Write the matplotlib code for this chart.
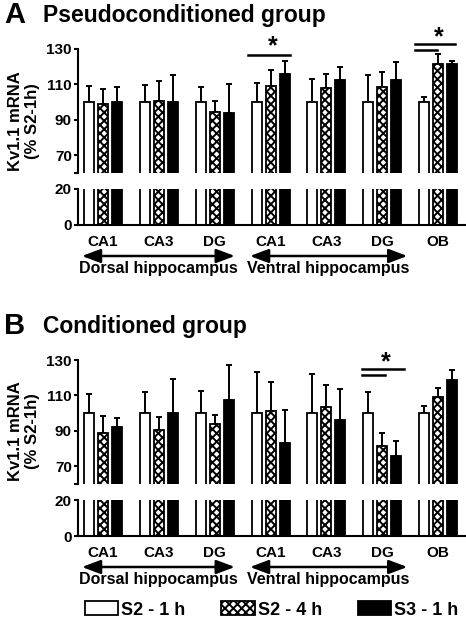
import numpy as np
import matplotlib
matplotlib.use('Agg')
import matplotlib.pyplot as plt
from matplotlib.patches import Patch

plt.rcParams['font.family'] = ['Liberation Sans', 'DejaVu Sans']
plt.rcParams['font.weight'] = 'bold'
plt.rcParams['hatch.linewidth'] = 1.4

# ---- data (% of S2-1h) ----
regions = ['CA1', 'CA3', 'DG', 'CA1', 'CA3', 'DG', 'OB']
series_names = ['S2 - 1 h', 'S2 - 4 h', 'S3 - 1 h']

# Panel A: pseudoconditioned group (mean, top of error bar)
a_s2_1h = [100, 100, 100, 100, 100, 100, 100]
a_s2_1h_top = [109.2, 109.7, 108.4, 110.8, 112.9, 115.4, 103.0]
a_s2_4h = [98.8, 100.7, 94.5, 109.3, 107.8, 108.6, 121.4]
a_s2_4h_top = [107.3, 112.2, 100.5, 118.4, 115.9, 117.0, 127.4]
a_s3_1h = [100, 100, 94.0, 115.9, 112.3, 112.3, 121.4]
a_s3_1h_top = [108.8, 115.4, 110.3, 123.4, 120.0, 122.5, 123.4]

# Panel B: conditioned group
b_s2_1h = [100, 100, 100, 100, 100, 100, 100]
b_s2_1h_top = [110.7, 112.0, 112.5, 123.0, 122.3, 112.0, 103.9]
b_s2_4h = [88.9, 90.6, 94.1, 101.1, 103.5, 81.4, 109.0]
b_s2_4h_top = [98.5, 97.9, 98.8, 117.6, 116.1, 88.7, 114.4]
b_s3_1h = [91.9, 100, 107.3, 82.9, 96.2, 75.9, 118.9]
b_s3_1h_top = [97.1, 119.3, 127.2, 101.5, 113.9, 84.4, 124.4]

# significance brackets: (x start, x end, y) in data units, star (x, y)
a_lines = [(2.60, 3.35, 126.6), (5.59, 6.31, 132.8), (5.59, 5.98, 129.4)]
a_stars = [(3.03, 131.5), (6.02, 136.5)]
b_lines = [(4.64, 5.39, 124.9), (4.64, 5.05, 121.5)]
b_stars = [(5.07, 128.6)]

x = np.arange(len(regions))
offsets = [-0.25, 0.0, 0.25]
bar_w = 0.18
faces = ['white', 'white', 'black']
hatches = [None, 'xxxx', None]

fig = plt.figure(figsize=(4.66, 6.19), dpi=100)


def style_axis(ax):
    for s in ['top', 'right']:
        ax.spines[s].set_visible(False)
    ax.spines['left'].set_linewidth(1.5)
    ax.spines['bottom'].set_linewidth(1.5)
    ax.tick_params(axis='y', length=3, width=1.5, pad=1.5, labelsize=11)
    ax.set_xlim(-0.45, 6.5)


def draw_panel(top_px, means, tops, lines, stars, letter, title, label_px):
    """Broken-axis bar panel: upper part 60-130, lower part 0-20."""
    H = 619.0
    ax_up = fig.add_axes([78 / 466, 1 - (top_px + 124) / H, 388 / 466, 124 / H])
    ax_lo = fig.add_axes([78 / 466, 1 - (top_px + 176) / H, 388 / 466, 36 / H])

    for i in range(3):
        for ax in (ax_up, ax_lo):
            ax.bar(x + offsets[i], means[i], width=bar_w, color=faces[i],
                   edgecolor='black', hatch=hatches[i], linewidth=1.3, zorder=2)
        err = np.array(tops[i]) - np.array(means[i])
        ax_up.errorbar(x + offsets[i], means[i], yerr=[np.zeros(len(x)), err],
                       fmt='none', ecolor='black', elinewidth=1.4, capsize=2.5,
                       capthick=1.4, zorder=1)

    style_axis(ax_up)
    ax_up.spines['bottom'].set_visible(False)
    ax_up.set_ylim(60, 130)
    ax_up.set_yticks([60, 70, 90, 110, 130])
    ax_up.set_yticklabels(['', '70', '90', '110', '130'])
    ax_up.set_xticks([])

    style_axis(ax_lo)
    ax_lo.set_ylim(0, 20)
    ax_lo.set_yticks([0, 20])
    ax_lo.set_xticks(x)
    ax_lo.set_xticklabels(regions, fontsize=11)
    ax_lo.tick_params(axis='x', length=0, pad=7)

    # significance marks
    for x0, x1, y in lines:
        ax_up.plot([x0, x1], [y, y], color='black', lw=1.8, clip_on=False)
    for sx, sy in stars:
        ax_up.text(sx, sy, '*', fontsize=18, ha='center', va='center')

    # region arrows under the axis
    arrow_y = 1 - (top_px + 207) / H
    text_y = 1 - (top_px + 219.5) / H
    for (a0, a1, name) in [(-0.38, 2.36, 'Dorsal hippocampus'),
                           (2.63, 5.45, 'Ventral hippocampus')]:
        ax_lo.annotate('', xy=(a1, arrow_y), xytext=(a0, arrow_y),
                       xycoords=('data', 'figure fraction'),
                       arrowprops=dict(arrowstyle='<|-|>,head_length=0.8,head_width=0.3',
                                       color='black', lw=1.8, shrinkA=0, shrinkB=0,
                                       mutation_scale=14))
        ax_lo.annotate(name, xy=((a0 + a1) / 2, text_y),
                       xycoords=('data', 'figure fraction'),
                       ha='center', va='center', fontsize=11.5)

    # titles and y label
    fig.text(4 / 466, 1 - (top_px - 26) / H, letter, fontsize=21, va='baseline')
    fig.text(43 / 466, 1 - (top_px - 27) / H, title, fontsize=16.5, va='baseline')
    fig.text(24 / 466, 1 - label_px / H, 'Kv1.1 mRNA\n(% S2-1h)', rotation=90,
             ha='center', va='center', fontsize=12, multialignment='center',
             linespacing=1.1)


draw_panel(49, [a_s2_1h, a_s2_4h, a_s3_1h], [a_s2_1h_top, a_s2_4h_top, a_s3_1h_top],
           a_lines, a_stars, 'A', 'Pseudoconditioned group', 121)
draw_panel(360, [b_s2_1h, b_s2_4h, b_s3_1h], [b_s2_1h_top, b_s2_4h_top, b_s3_1h_top],
           b_lines, b_stars, 'B', 'Conditioned group', 431)

handles = [Patch(facecolor=faces[i], edgecolor='black', hatch=hatches[i], linewidth=1.3)
           for i in range(3)]
fig.legend(handles, series_names, loc='center', bbox_to_anchor=(0.583, 1 - 610 / 619),
           ncol=3, frameon=False, fontsize=13, handlelength=1.85, handleheight=0.8,
           handletextpad=0.15, columnspacing=2.0, borderpad=0, borderaxespad=0)

fig.savefig('out.png', dpi=100)
